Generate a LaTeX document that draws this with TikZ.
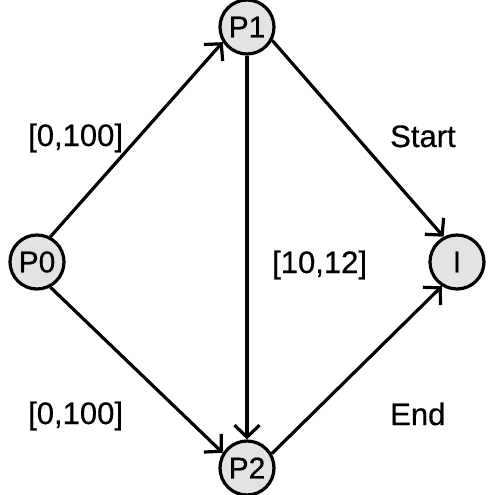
\documentclass[tikz,border=0pt]{standalone}
\usepackage{fontspec}
\setmainfont{Liberation Sans}
\newfontfamily\diagfont[FakeBold=0.6]{Liberation Sans}
\usetikzlibrary{arrows.meta}
\begin{document}
\begin{tikzpicture}[x=1pt,y=-1pt,
  place/.style={circle,draw=black,line width=3.2pt,fill=gray!22,minimum size=54pt,inner sep=0pt,font=\diagfont\fontsize{30}{32}\selectfont},
  conn/.style={line width=3.2pt,-{Straight Barb[length=12pt,width=25pt,line width=3.2pt]}},
  lbl/.style={font=\diagfont\fontsize{31}{33}\selectfont,inner sep=0pt}]
\useasboundingbox (0,0) rectangle (488,495);
\node[place] (P0) at (37,262) {P0};
\node[place] (P1) at (247,27) {P1};
\node[place] (P2) at (247,468) {P2};
\node[place] (I) at (457,262) {I};
\draw[conn] (P0.62) -- (P1.212);
\draw[conn] (P0.-62) -- (P2.148);
\draw[conn] (P1.-90) -- (P2.90);
\draw[conn] (P1.-28) -- (I.118);
\draw[conn] (P2.30) -- (I.238);
\node[lbl,anchor=base west] (l1) at (28,146) {[0,100]};
\node[lbl,anchor=base west] (l2) at (28,424) {[0,100]};
\node[lbl,anchor=base west] (l3) at (272,273) {[10,12]};
\node[lbl,anchor=base west] (l4) at (390,147) {Start};
\node[lbl,anchor=base west] (l5) at (390,425) {End};
\end{tikzpicture}
\end{document}
